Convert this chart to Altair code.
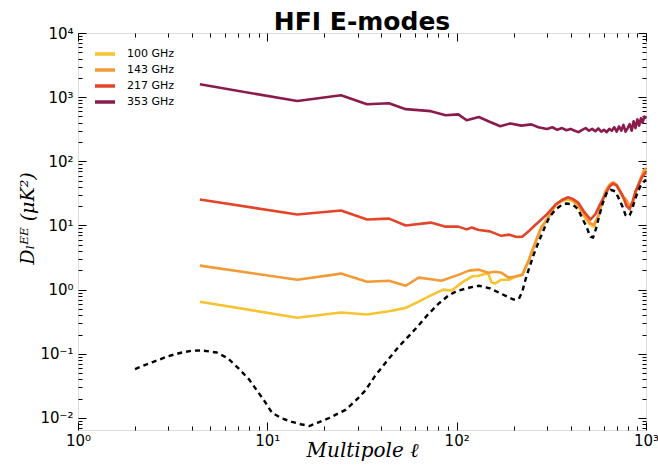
import altair as alt
import pandas as pd

# ---------------- data ----------------
series_names = ["100 GHz", "143 GHz", "217 GHz", "353 GHz"]
series_colors = ["#F7C331", "#F29A36", "#E2452A", "#8C1B4D"]

ell_100 = [4.4, 14.4, 24.5, 33.6, 43.9, 53.8, 63, 74, 85, 94, 107, 120, 131, 140, 147, 153, 160,
           172, 190, 205, 222, 240, 260, 280, 300, 332, 360, 388, 410, 438, 470, 505, 530, 560,
           580, 608, 640, 670, 700, 750, 780, 820, 850, 880, 920, 950, 975, 1000]
D_100 = [0.65, 0.365, 0.44, 0.41, 0.46, 0.52, 0.65, 0.83, 1.0, 0.97, 1.3, 1.6, 1.65, 1.75, 1.78,
         1.29, 1.25, 1.43, 1.43, 1.6, 1.7, 2.9, 5.5, 9.5, 12, 20.5, 24, 25.5, 24, 20, 14, 10.4,
         9.6, 14, 20, 32, 42, 46.8, 42, 28, 25.5, 20, 22, 32, 45, 58, 70, 75]

ell_143 = [4.4, 14.4, 24.5, 33.6, 43.9, 53.8, 63, 73, 83, 102, 116, 131, 147, 160, 172, 188, 205,
           222, 240, 260, 280, 300, 332, 360, 388, 410, 438, 470, 505, 530, 560, 580, 608, 640,
           670, 700, 750, 780, 820, 850, 880, 920, 950, 975, 1000]
D_143 = [2.37, 1.43, 1.78, 1.33, 1.38, 1.15, 1.54, 1.45, 1.38, 1.7, 1.98, 2.05, 1.84, 1.9, 1.84,
         1.54, 1.6, 1.7, 2.8, 5.3, 9.3, 12.5, 21, 25, 26.5, 25, 21, 15, 11, 10.2, 14, 21, 33, 43,
         47, 43, 29, 26, 20, 22, 33, 47, 60, 72, 78]

ell_217 = [4.4, 14.4, 24.5, 33.6, 43.9, 53.8, 73, 87.5, 102, 113, 120, 131, 150, 172, 190, 207,
           222, 240, 260, 280, 300, 332, 360, 388, 410, 438, 470, 510, 540, 570, 608, 640, 670,
           700, 750, 790, 820, 850, 880, 920, 950, 1000]
D_217 = [25.5, 14.8, 17.1, 12.4, 12.8, 10, 11.1, 9.6, 9.6, 8.7, 9.3, 8.5, 8.1, 6.9, 7.2, 6.6,
         6.7, 8.1, 10.2, 12.4, 15, 21, 25, 27.5, 26, 22.8, 16.5, 12.4, 15, 21, 30, 40, 45, 42,
         30, 20, 18, 24, 34, 45, 56, 68]

ell_353 = [4.4, 14.4, 24.5, 33.6, 43.9, 53.8, 73, 87.5, 102, 113, 131, 147, 170, 192, 220, 248,
           270, 300, 320, 340, 360, 380, 400, 420, 440, 460, 480, 500, 520, 540, 560, 580, 600,
           620, 640, 660, 680, 700, 720, 740, 760, 780, 800, 820, 840, 860, 880, 900, 920, 940,
           960, 980, 1000]
D_353 = [1585, 870, 1070, 777, 805, 650, 605, 523, 540, 437, 490, 422, 352, 390, 360, 377,
         340, 320, 340, 310, 330, 305, 320, 300, 285, 310, 330, 300, 320, 295, 325, 290, 310,
         285, 320, 300, 340, 290, 350, 300, 370, 290, 330, 380, 300, 420, 330, 450, 360, 470,
         400, 500, 460]

ell_th = [2, 2.5, 3, 3.5, 4, 4.5, 5.4, 6.2, 7.1, 8, 8.8, 9.7, 10.6, 12, 13.5, 15, 16.7, 18.5,
          21.2, 24, 26, 30, 33, 37, 42, 49.5, 55, 61, 70, 80, 90, 100, 116, 131, 150, 167, 185,
          200, 213, 222, 232, 240, 255, 270, 290, 310, 335, 360, 380, 400, 420, 438, 460, 485,
          500, 510, 525, 545, 560, 590, 620, 650, 690, 720, 750, 780, 800, 820, 840, 870, 900,
          930, 960, 1000]
D_th = [0.058, 0.075, 0.092, 0.104, 0.112, 0.113, 0.105, 0.085, 0.058, 0.04, 0.027, 0.018,
        0.012, 0.0098, 0.0087, 0.008, 0.0075, 0.0085, 0.01, 0.012, 0.0135, 0.02, 0.027, 0.045,
        0.072, 0.13, 0.18, 0.25, 0.4, 0.6, 0.8, 0.95, 1.07, 1.15, 1.05, 0.9, 0.78, 0.7, 0.72,
        0.93, 1.5, 2.05, 3.5, 5.4, 9, 13.8, 18, 21, 22, 21.5, 20, 17.8, 13, 9.6, 7.5, 6.7, 6.5,
        9, 12.4, 22, 32, 36, 34, 26, 20, 14.5, 13.8, 14.5, 17, 24, 32, 40, 46, 52]

x_major = [1, 10, 100, 1000]
y_major = [0.01, 0.1, 1, 10, 100, 1000, 10000]
x_labels = ["10⁰", "10¹", "10²", "10³"]
y_labels = ["10⁻²", "10⁻¹", "10⁰", "10¹", "10²", "10³", "10⁴"]

X_DOM = [1, 1000]
Y_DOM = [0.0065, 10000]

x_minor = [m * 10 ** k for k in range(0, 3) for m in range(2, 10)]
y_minor = [round(m * 10.0 ** k, 6) for k in range(-3, 4) for m in range(2, 10)
           if Y_DOM[0] <= m * 10.0 ** k <= Y_DOM[1]]

# ---------------- tables ----------------
rows = []
for name, ells, ds in zip(series_names, [ell_100, ell_143, ell_217, ell_353],
                          [D_100, D_143, D_217, D_353]):
    for e, d in zip(ells, ds):
        rows.append({"ell": e, "D": d, "series": name})
df = pd.DataFrame(rows)
df_th = pd.DataFrame({"ell": ell_th, "D": D_th})
df_dummy = pd.DataFrame({"ell": [10], "D": [1]})

W, H = 568, 397
xs = alt.Scale(type="log", domain=X_DOM, nice=False)
ys = alt.Scale(type="log", domain=Y_DOM, nice=False)

x_expr = "[" + ",".join("'%s'" % s for s in x_labels) + "][round(log(datum.value)/LN10)]"
y_expr = "[" + ",".join("'%s'" % s for s in y_labels) + "][round(log(datum.value)/LN10)+2]"

main_x_axis = alt.Axis(orient="bottom", values=x_major, labelExpr=x_expr, ticks=False,
                       domain=False, grid=False,
                       labelFontSize=15, labelFont="DejaVu Sans", labelColor="black",
                       labelPadding=3, labelFlush=False,
                       title="Multipole  ℓ", titleFont="DejaVu Serif", titleFontStyle="italic",
                       titleFontWeight="normal", titleFontSize=20, titleColor="black",
                       titleX=W / 2, titleY=26, titleBaseline="alphabetic", titleAlign="center")
main_y_axis = alt.Axis(orient="left", values=y_major, labelExpr=y_expr, ticks=False,
                       domain=False, grid=False,
                       labelFontSize=15, labelFont="DejaVu Sans", labelColor="black",
                       labelPadding=5, labelFlush=False,
                       title="Dₗᴱᴱ  (μK²)", titleFont="DejaVu Serif", titleFontStyle="italic",
                       titleFontWeight="normal", titleFontSize=19, titleColor="black",
                       titleX=-51, titleY=185, titleAngle=270, titleBaseline="middle",
                       titleAlign="center")

lines = alt.Chart(df).mark_line(strokeWidth=2.6, strokeJoin="round").encode(
    x=alt.X("ell:Q", scale=xs, axis=main_x_axis),
    y=alt.Y("D:Q", scale=ys, axis=main_y_axis),
    color=alt.Color("series:N",
                    scale=alt.Scale(domain=series_names, range=series_colors),
                    legend=alt.Legend(title=None, orient="none", legendX=20, legendY=14,
                                      symbolType="M-2,0H2", symbolSize=100,
                                      symbolStrokeWidth=3.5, labelFontSize=11,
                                      labelFont="DejaVu Sans", labelColor="black",
                                      labelOffset=15, rowPadding=2, padding=0)),
    order=alt.Order("ell:Q"),
)

theory = alt.Chart(df_th).mark_line(strokeWidth=2.4, color="black", strokeDash=[5, 4]).encode(
    x=alt.X("ell:Q", scale=xs, axis=None),
    y=alt.Y("D:Q", scale=ys, axis=None),
    order=alt.Order("ell:Q"),
)


def tick_layer(xorient, yorient, xvals, yvals, size):
    ax = alt.Axis(orient=xorient, values=xvals, tickSize=size, offset=-size, labels=False,
                  domain=False, grid=False, ticks=True, tickColor="black", tickWidth=1,
                  title="")
    ay = alt.Axis(orient=yorient, values=yvals, tickSize=size, offset=-size, labels=False,
                  domain=False, grid=False, ticks=True, tickColor="black", tickWidth=1,
                  title="")
    return alt.Chart(df_dummy).mark_point(opacity=0).encode(
        x=alt.X("ell:Q", scale=xs, axis=ax),
        y=alt.Y("D:Q", scale=ys, axis=ay),
    )


ticks = [
    tick_layer("bottom", "left", x_major, y_major, 8),
    tick_layer("bottom", "left", x_minor, y_minor, 4),
    tick_layer("top", "right", x_major, y_major, 8),
    tick_layer("top", "right", x_minor, y_minor, 4),
]

chart = alt.layer(lines, theory, *ticks).resolve_axis(x="independent", y="independent").properties(
    width=W, height=H,
    autosize=alt.AutoSizeParams(type="none"),
    padding={"left": 78, "top": 33, "right": 12, "bottom": 46},
    title=alt.TitleParams("HFI E-modes", fontSize=25, font="DejaVu Sans", fontWeight="bold",
                          anchor="middle", offset=3, dy=12, color="black"),
).configure_view(stroke="black", strokeWidth=1.6).configure(background="white")

chart.save("out.html", embed_options={"renderer": "svg", "actions": False})
